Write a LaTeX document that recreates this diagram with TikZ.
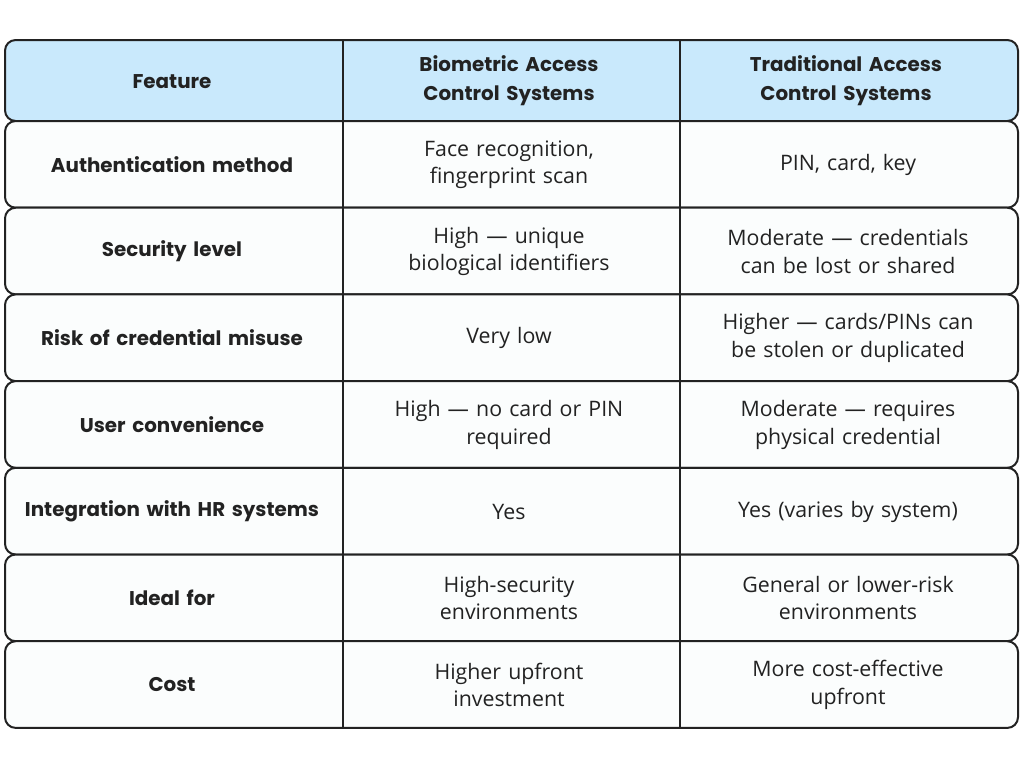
\documentclass[tikz,border=0pt]{standalone}
\usepackage{fontspec}
\setmainfont{Open Sans}
\newfontfamily\headfont{Poppins}
\definecolor{headblue}{HTML}{C9E9FC}
\definecolor{rowfill}{HTML}{FBFDFD}
\definecolor{inkgray}{HTML}{222222}
\tikzset{
  row/.style={draw=inkgray, line width=1.5pt, rounded corners=8pt},
  cell/.style={text width=300\pxu, align=center, font=\fontsize{16}{20.5}\selectfont, text=inkgray, inner sep=0pt},
  feat/.style={cell, font=\headfont\bfseries\fontsize{14.9}{21.5}\selectfont}
}
\newlength{\pxu}\setlength{\pxu}{0.75pt}
\begin{document}
\begin{tikzpicture}[x=0.75pt, y=-0.75pt]

\def\xl{5}; % left
\def\xa{343}; % first divider
\def\xb{680}; % second divider
\def\xr{1018}; % right

\useasboundingbox (0,0) rectangle (1024,768);

% header
\filldraw[row, fill=headblue] (\xl,40) rectangle (\xr,121);
\draw[inkgray, line width=1.5pt] (\xa,40) -- (\xa,121) (\xb,40) -- (\xb,121);
\node[feat] (hfeat) at (172,82) {Feature};
\node[feat] (hbio) at (509,81) {Biometric Access\\Control Systems};
\node[feat] (htrad) at (846,81) {Traditional Access\\Control Systems};

% body rows
\foreach \i/\f/\b/\t in {
  0/Authentication method/{Face recognition,\\fingerprint scan}/{PIN, card, key},
  1/Security level/{High — unique\\biological identifiers}/{Moderate — credentials\\can be lost or shared},
  2/Risk of credential misuse/Very low/{Higher — cards/PINs can\\be stolen or duplicated},
  3/User convenience/{High — no card or PIN\\required}/{Moderate — requires\\physical credential},
  4/Integration with HR systems/Yes/{Yes (varies by system)},
  5/Ideal for/{High-security\\environments}/{General or lower-risk\\environments},
  6/Cost/{Higher upfront\\investment}/{More cost-effective\\upfront}}{
  \pgfmathsetmacro\yt{121+86.7*\i}
  \pgfmathsetmacro\yb{\yt+86.7}
  \pgfmathsetmacro\ym{\yt+43.7}
  \filldraw[row, fill=rowfill] (\xl,\yt) rectangle (\xr,\yb);
  \draw[inkgray, line width=1.5pt] (\xa,\yt) -- (\xa,\yb) (\xb,\yt) -- (\xb,\yb);
  \node[feat] (feat\i) at (172,\ym) {\f};
  \node[cell] (bio\i) at (509,\ym) {\b};
  \node[cell] (trad\i) at (848,\ym) {\t};
}

\end{tikzpicture}
\end{document}
